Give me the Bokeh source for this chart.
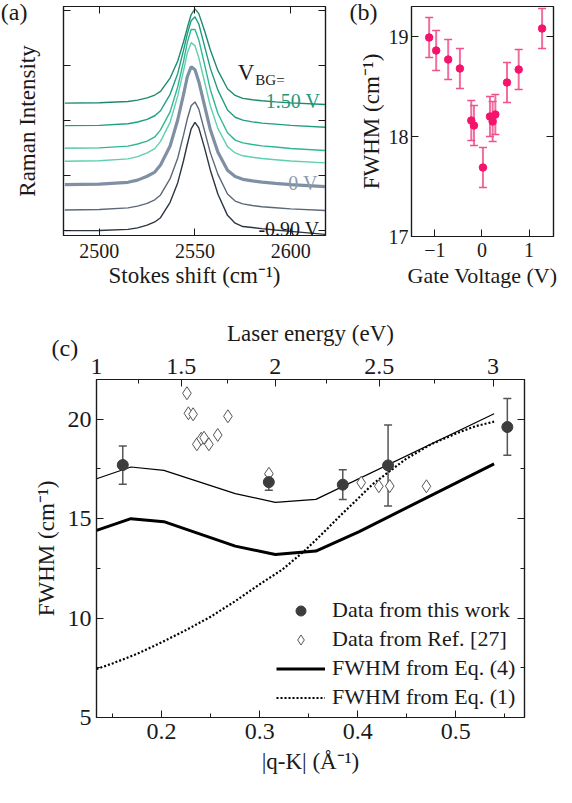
import numpy as np
from bokeh.plotting import figure
from bokeh.models import (ColumnDataSource, Whisker, TeeHead, LinearAxis, FixedTicker,
                          SingleIntervalTicker, CustomJSTickFormatter, Label, Legend,
                          LegendItem, Range1d)
from bokeh.layouts import column, row
from bokeh.embed import file_html
from bokeh.resources import INLINE

FONT = "Liberation Serif, serif"
INK = "#1a1a1a"

# ---------------- (a) Raman spectra, offset ----------------
stokes_shift = [2482, 2500, 2515, 2520, 2525, 2529, 2532, 2537, 2541, 2544, 2546, 2548, 2550,
                2552, 2555, 2558, 2562, 2567, 2571, 2575, 2580, 2585, 2592, 2600, 2618]
spec_p150 = [2.316, 2.322, 2.345, 2.372, 2.412, 2.464, 2.532, 2.774, 3.086, 3.431, 3.691, 3.933,
             4.037, 3.950, 3.637, 3.291, 2.909, 2.578, 2.457, 2.404, 2.377, 2.359, 2.340, 2.321, 2.292]
spec_2 = [1.905, 1.911, 1.940, 1.971, 2.021, 2.086, 2.177, 2.477, 2.858, 3.280, 3.581, 3.822,
          3.892, 3.761, 3.358, 2.955, 2.553, 2.190, 2.058, 2.007, 1.975, 1.952, 1.933, 1.911, 1.877]
spec_3 = [1.494, 1.499, 1.532, 1.571, 1.623, 1.699, 1.829, 2.156, 2.615, 3.073, 3.427, 3.661,
          3.660, 3.470, 3.025, 2.566, 2.126, 1.775, 1.641, 1.590, 1.560, 1.536, 1.515, 1.489, 1.452]
spec_4 = [1.256, 1.265, 1.298, 1.339, 1.410, 1.486, 1.617, 1.966, 2.448, 2.906, 3.234, 3.420,
          3.365, 3.145, 2.706, 2.268, 1.851, 1.522, 1.407, 1.355, 1.328, 1.305, 1.284, 1.260, 1.225]
spec_0 = [0.830, 0.838, 0.871, 0.911, 0.982, 1.057, 1.187, 1.534, 2.013, 2.470, 2.797, 2.981,
          2.927, 2.708, 2.271, 1.834, 1.418, 1.090, 0.976, 0.925, 0.898, 0.874, 0.852, 0.829, 0.793]
spec_6 = [0.366, 0.375, 0.405, 0.437, 0.486, 0.551, 0.640, 0.938, 1.315, 1.732, 2.030, 2.269,
          2.338, 2.208, 1.811, 1.413, 1.016, 0.657, 0.528, 0.477, 0.447, 0.426, 0.407, 0.386, 0.355]
spec_m090 = [-0.011, -0.010, 0.012, 0.040, 0.089, 0.147, 0.225, 0.505, 0.864, 1.265, 1.565, 1.845,
             1.965, 1.864, 1.500, 1.097, 0.653, 0.268, 0.125, 0.063, 0.045, 0.025, 0.000, -0.025, -0.079]
spectra = [spec_p150, spec_2, spec_3, spec_4, spec_0, spec_6, spec_m090]
spec_colors = ["#1d8a6f", "#1f9d80", "#2fb794", "#5fcfb1", "#8090a4", "#5b6878", "#2c3540"]
spec_widths = [1.4, 1.4, 1.4, 1.4, 3.2, 1.4, 1.4]

# ---------------- (b) FWHM vs gate voltage ----------------
gate_voltage = [-1.121, -0.972, -0.717, -0.468, -0.227, -0.170, 0.021,
                0.170, 0.227, 0.284, 0.532, 0.780, 1.277]
fwhm_gate = [18.99, 18.86, 18.77, 18.68, 18.16, 18.11, 17.69,
             18.20, 18.15, 18.22, 18.54, 18.67, 19.08]
fwhm_gate_err = [0.20, 0.20, 0.20, 0.20, 0.20, 0.20, 0.20,
                 0.20, 0.20, 0.20, 0.20, 0.20, 0.20]

# ---------------- (c) FWHM vs |q-K| ----------------
qk_this = [0.1604, 0.3093, 0.3847, 0.4309, 0.5525]
fwhm_this = [17.70, 16.84, 16.71, 17.68, 19.61]
fwhm_this_lo = [16.73, 16.43, 15.97, 15.64, 18.19]
fwhm_this_hi = [18.66, 17.20, 17.46, 19.71, 21.04]
qk_ref = [0.2258, 0.2273, 0.2321, 0.2359, 0.2404, 0.2433, 0.2482, 0.2572, 0.2676,
          0.3094, 0.4035, 0.4215, 0.4326, 0.4700]
fwhm_ref = [21.31, 20.30, 20.25, 18.74, 19.02, 19.07, 18.74, 19.21, 20.15,
            17.26, 16.81, 16.63, 16.64, 16.63]
qk_thin = [0.1337, 0.1687, 0.2023, 0.2751, 0.3159, 0.3573, 0.5390]
fwhm_thin = [17.01, 17.60, 17.43, 16.26, 15.82, 15.97, 20.28]
qk_eq4 = [0.1337, 0.1687, 0.2023, 0.2751, 0.3159, 0.3573, 0.4015, 0.5390]
fwhm_eq4 = [14.41, 15.00, 14.85, 13.62, 13.20, 13.37, 14.35, 17.76]
qk_eq1 = [0.1337, 0.150, 0.175, 0.200, 0.225, 0.250, 0.275, 0.300, 0.3233, 0.3455,
          0.365, 0.3811, 0.400, 0.4151, 0.432, 0.449, 0.475, 0.5035, 0.520, 0.539]
fwhm_eq1 = [7.44, 7.72, 8.20, 8.78, 9.40, 10.07, 10.85, 11.70, 12.45, 13.37,
            14.30, 15.10, 16.00, 16.73, 17.37, 18.00, 18.75, 19.35, 19.65, 19.88]
laser_energy_ticks = ["1", "1.5", "2", "2.5", "3"]
qk_at_energy = [0.1337, 0.2199, 0.3159, 0.4219, 0.5380]
qk_at_energy_minor = [0.1760, 0.2668, 0.3677, 0.4778]


def style_axis(ax, tick_size="20px", label_size="23px"):
    ax.major_tick_in = 7
    ax.major_tick_out = 0
    ax.minor_tick_in = 4
    ax.minor_tick_out = 0
    ax.axis_line_color = INK
    ax.major_tick_line_color = INK
    ax.minor_tick_line_color = INK
    ax.axis_line_width = 1.2
    ax.major_label_text_font = FONT
    ax.major_label_text_font_size = tick_size
    ax.major_label_text_color = INK
    ax.axis_label_text_font = FONT
    ax.axis_label_text_font_style = "normal"
    ax.axis_label_text_font_size = label_size
    ax.axis_label_text_color = INK


def blank_axis(ticker):
    ax = LinearAxis(ticker=ticker, formatter=CustomJSTickFormatter(code="return ''"))
    style_axis(ax)
    ax.major_label_text_font_size = "0px"
    ax.major_label_standoff = 0
    return ax


def base_fig(**kw):
    p = figure(output_backend="svg", toolbar_location=None, title=None, **kw)
    p.grid.visible = False
    p.outline_line_color = INK
    p.outline_line_width = 1.2
    p.background_fill_color = "white"
    p.border_fill_color = "white"
    return p


def mk_label(text, x, y, size="20px", color=INK, align="left", style="normal"):
    return Label(x=x, y=y, x_units="screen", y_units="screen", text=text,
                 text_font=FONT, text_font_size=size, text_color=color,
                 text_align=align, text_baseline="alphabetic", text_font_style=style)


# ================= panel (a) =================
pa = base_fig(frame_width=262, frame_height=229,
              x_range=Range1d(2481.3, 2618.2), y_range=Range1d(-0.10, 4.08),
              min_border_left=63, min_border_right=2, min_border_top=6, min_border_bottom=65)
for ys, c, w in zip(spectra, spec_colors, spec_widths):
    pa.line(stokes_shift, ys, line_color=c, line_width=w)
xt_a = FixedTicker(ticks=[2500, 2550, 2600])
yt_a = FixedTicker(ticks=[0, 1, 2, 3, 4])
pa.xaxis.ticker = xt_a
pa.yaxis.ticker = yt_a
for ax in pa.xaxis + pa.yaxis:
    style_axis(ax)
pa.xaxis.major_label_standoff = 8
pa.xaxis.axis_label = "Stokes shift (cm⁻¹)"
pa.xaxis.axis_label_standoff = 2
pa.yaxis.formatter = CustomJSTickFormatter(code="return ''")
pa.yaxis.major_label_text_font_size = "0px"
pa.yaxis.major_label_standoff = 0
pa.add_layout(blank_axis(yt_a), "right")
pa.add_layout(blank_axis(xt_a), "above")
pa.add_layout(mk_label("(a)", -35.7, 224, size="24px"), "left")
ylab_a = blank_axis(yt_a)
ylab_a.axis_line_color = None
ylab_a.major_tick_line_color = None
ylab_a.minor_tick_line_color = None
ylab_a.axis_label = "Raman Intensity"
ylab_a.axis_label_standoff = -3
pa.add_layout(ylab_a, "left")
pa.add_layout(mk_label("V", 174.3, 163, size="23px"))
pa.add_layout(mk_label("BG=", 191.8, 156, size="15px"))
pa.add_layout(mk_label("1.50 V", 202.3, 135, color="#22977a"))
pa.add_layout(mk_label("0 V", 254.3, 53, color="#8d99aa", align="right"))
pa.add_layout(mk_label("-0.90 V", 256, 6.3, align="right"))

# ================= panel (b) =================
pb = base_fig(frame_width=142, frame_height=230,
              x_range=Range1d(-1.496, 1.519), y_range=Range1d(17.0, 19.3),
              min_border_left=80, min_border_right=7, min_border_top=5, min_border_bottom=65)
src_b = ColumnDataSource(dict(
    x=gate_voltage, y=fwhm_gate,
    lo=[v - e for v, e in zip(fwhm_gate, fwhm_gate_err)],
    hi=[v + e for v, e in zip(fwhm_gate, fwhm_gate_err)]))
pb.add_layout(Whisker(source=src_b, base="x", lower="lo", upper="hi", dimension="height",
                      line_color="#f26ea0", line_width=2,
                      upper_head=TeeHead(size=8, line_color="#f0508c", line_width=1.5),
                      lower_head=TeeHead(size=8, line_color="#f0508c", line_width=1.5)))
pb.scatter("x", "y", source=src_b, size=7.5, fill_color="#f5146c", line_color="#f5146c")
xt_b = FixedTicker(ticks=[-1, 0, 1])
yt_b = FixedTicker(ticks=[17, 18, 19])
pb.xaxis.ticker = xt_b
pb.yaxis.ticker = yt_b
for ax in pb.xaxis + pb.yaxis:
    style_axis(ax)
pb.xaxis.major_label_standoff = 6
pb.xaxis.axis_label = "Gate Voltage (V)"
pb.xaxis.axis_label_text_font_size = "22px"
pb.xaxis.axis_label_standoff = 3
pb.yaxis.major_label_standoff = 3
pb.yaxis.axis_label = "FWHM (cm⁻¹)"
pb.yaxis.axis_label_standoff = 2
pb.add_layout(blank_axis(yt_b), "right")
pb.add_layout(mk_label("(b)", 22, 224.3, size="24px"), "left")

# ================= panel (c) =================
pc = base_fig(frame_width=428, frame_height=338,
              x_range=Range1d(0.1336, 0.5700), y_range=Range1d(5.0, 22.0),
              min_border_left=96, min_border_right=30, min_border_top=79, min_border_bottom=69)
r_thin = pc.line(qk_thin, fwhm_thin, line_color="black", line_width=1.2)
r_eq4 = pc.line(qk_eq4, fwhm_eq4, line_color="black", line_width=3)
r_eq1 = pc.line(qk_eq1, fwhm_eq1, line_color="black", line_width=2.2, line_dash="2 2")
src_c = ColumnDataSource(dict(x=qk_this, y=fwhm_this, lo=fwhm_this_lo, hi=fwhm_this_hi))
pc.add_layout(Whisker(source=src_c, base="x", lower="lo", upper="hi", dimension="height",
                      line_color="#555555", line_width=1.5,
                      upper_head=TeeHead(size=8, line_color="#555555", line_width=1.5),
                      lower_head=TeeHead(size=8, line_color="#555555", line_width=1.5)))
r_ref = pc.scatter(qk_ref, fwhm_ref, marker="diamond", size=13,
                   fill_color="white", line_color="#555555", line_width=1)
r_this = pc.scatter("x", "y", source=src_c, size=11, fill_color="#3d3d3d", line_color="#3d3d3d")
pc.xaxis.ticker = SingleIntervalTicker(interval=0.1, num_minor_ticks=2)
pc.yaxis.ticker = SingleIntervalTicker(interval=5, num_minor_ticks=2)
for ax in pc.xaxis + pc.yaxis:
    style_axis(ax, tick_size="24px")
pc.xaxis.major_label_standoff = 6
pc.xaxis.axis_label = "|q-K| (Å⁻¹)"
pc.xaxis.axis_label_standoff = 7
pc.yaxis.major_label_standoff = 5
pc.yaxis.axis_label = "FWHM (cm⁻¹)"
pc.yaxis.axis_label_standoff = 6
pc.add_layout(blank_axis(SingleIntervalTicker(interval=5, num_minor_ticks=2)), "right")
top = LinearAxis(ticker=FixedTicker(ticks=qk_at_energy, minor_ticks=qk_at_energy_minor),
                 formatter=CustomJSTickFormatter(
                     args=dict(vals=qk_at_energy, labs=laser_energy_ticks),
                     code="""
let best = ''; let bd = 1e9;
for (let i = 0; i < vals.length; i++) {
  const d = Math.abs(vals[i] - tick);
  if (d < bd) { bd = d; best = labs[i]; }
}
return bd < 1e-6 ? best : '';
"""))
style_axis(top, tick_size="24px")
top.major_label_standoff = 6
top.axis_label = "Laser energy (eV)"
top.axis_label_standoff = 10
pc.add_layout(top, "above")

legend = Legend(items=[LegendItem(label="Data from this work", renderers=[r_this]),
                       LegendItem(label="Data from Ref. [27]", renderers=[r_ref]),
                       LegendItem(label="FWHM from Eq. (4)", renderers=[r_eq4]),
                       LegendItem(label="FWHM from Eq. (1)", renderers=[r_eq1])],
                location=(180, 7))
legend.background_fill_alpha = 0
legend.border_line_color = None
legend.padding = 0
legend.margin = 0
legend.spacing = 3
legend.glyph_width = 49
legend.glyph_height = 25
legend.label_height = 25
legend.label_standoff = 7
legend.label_text_font = FONT
legend.label_text_font_size = "22px"
legend.label_text_color = INK
pc.add_layout(legend)
pc.add_layout(mk_label("(c)", 48, 370, size="24px"), "left")

layout = column(row(pa, pb), pc)
open("out.html", "w").write(file_html(layout, INLINE))
